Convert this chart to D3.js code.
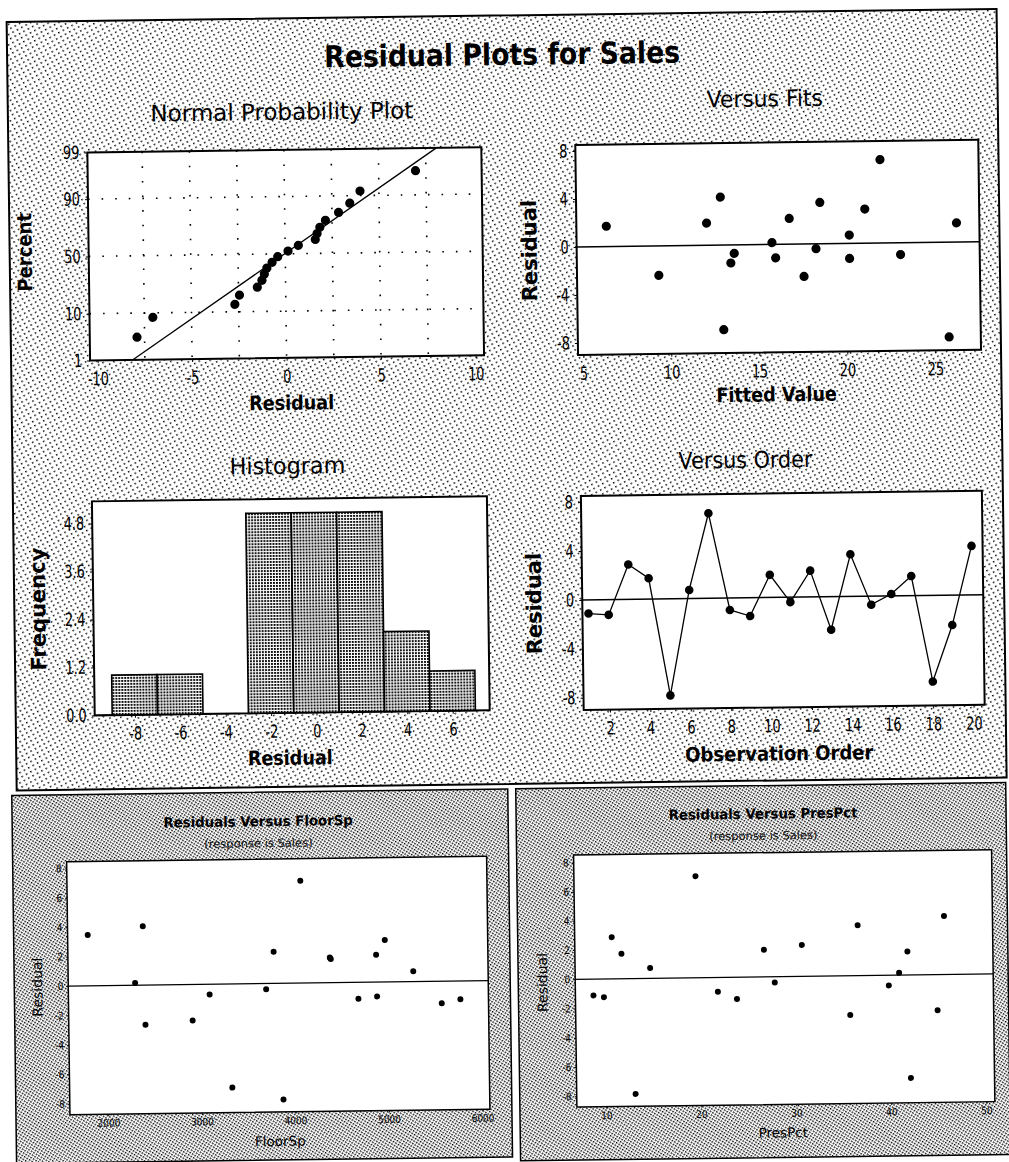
<!DOCTYPE html>
<html>
<head>
<meta charset="utf-8">
<script src="https://cdn.jsdelivr.net/npm/d3@7"></script>
<style>
body { margin: 0; background: #fff; }
text { font-family: "DejaVu Sans", Verdana, sans-serif; }
</style>
</head>
<body>
<script>
// ---- data ----
var order     = [1, 2, 3, 4, 5, 6, 7, 8, 9, 10, 11, 12, 13, 14, 15, 16, 17, 18, 19, 20];
var residuals = [-1.12, -1.25, 2.85, 1.70, -7.90, 0.70, 6.95, -0.98, -1.50, 1.85,
                 -0.40, 2.15, -2.70, 3.45, -0.70, 0.15, 1.60, -7.05, -2.45, 4.00];
var fitted    = [16.0, 20.2, 21.1, 6.4, 25.8, 20.2, 22.0, 23.1, 13.45, 12.1,
                 18.3, 16.8, 17.6, 18.55, 13.65, 15.8, 26.3, 13.0, 9.35, 12.9];
var floorSp   = [4690, 5780, 4980, 4390, 3875, 5280, 4085, 4890, 5580, 4885,
                 3705, 3790, 2410, 1805, 3100, 2305, 4400, 3330, 2915, 2395];
var presPct   = [8.8, 9.9, 10.8, 11.8, 13.1, 14.8, 19.7, 21.9, 23.9, 26.8,
                 27.9, 30.8, 35.8, 36.7, 39.9, 41.0, 41.9, 42.1, 45.0, 45.8];
var histCenters = [-8, -6, -4, -2, 0, 2, 4, 6];
var histCounts  = [1, 1, 0, 5, 5, 5, 2, 1];

var pctTicks   = [1, 10, 50, 90, 99];
var pctGrid    = [10, 50, 90];
var npTicks    = [-10, -5, 0, 5, 10];
var npGrid     = [-7.5, -5, -2.5, 0, 2.5, 5, 7.5];
var fitTicks   = [5, 10, 15, 20, 25];
var resTicks   = [-8, -4, 0, 4, 8];
var orderTicks = [2, 4, 6, 8, 10, 12, 14, 16, 18, 20];
var freqTicks  = [0, 1.2, 2.4, 3.6, 4.8];
var floorTicks = [2000, 3000, 4000, 5000, 6000];
var presTicks  = [10, 20, 30, 40, 50];
var resTicks2  = [-8, -6, -4, -2, 0, 2, 4, 6, 8];

// inverse normal cdf (Acklam) for the probability scale
function qnorm(p) {
  var a = [-3.969683028665376e+01, 2.209460984245205e+02, -2.759285104469687e+02, 1.383577518672690e+02, -3.066479806614716e+01, 2.506628277459239e+00];
  var b = [-5.447609879822406e+01, 1.615858368580409e+02, -1.556989798598866e+02, 6.680131188771972e+01, -1.328068155288572e+01];
  var c = [-7.784894002430293e-03, -3.223964580411365e-01, -2.400758277161838e+00, -2.549732539343734e+00, 4.374664141464968e+00, 2.938163982698783e+00];
  var d = [7.784695709041462e-03, 3.224671290700398e-01, 2.445134137142996e+00, 3.754408661907416e+00];
  var q, r;
  if (p < 0.02425) {
    q = Math.sqrt(-2 * Math.log(p));
    return (((((c[0]*q+c[1])*q+c[2])*q+c[3])*q+c[4])*q+c[5]) / ((((d[0]*q+d[1])*q+d[2])*q+d[3])*q+1);
  }
  if (p > 1 - 0.02425) {
    q = Math.sqrt(-2 * Math.log(1 - p));
    return -(((((c[0]*q+c[1])*q+c[2])*q+c[3])*q+c[4])*q+c[5]) / ((((d[0]*q+d[1])*q+d[2])*q+d[3])*q+1);
  }
  q = p - 0.5; r = q * q;
  return (((((a[0]*r+a[1])*r+a[2])*r+a[3])*r+a[4])*r+a[5])*q / (((((b[0]*r+b[1])*r+b[2])*r+b[3])*r+b[4])*r+1);
}

var svg = d3.select("body").append("svg").attr("width", 1009).attr("height", 1162);
var defs = svg.append("defs");

// halftone-ish fills
function dotPattern(id, w, h, dw, dh, angle) {
  var p = defs.append("pattern").attr("id", id).attr("patternUnits", "userSpaceOnUse")
    .attr("width", w).attr("height", h).attr("patternTransform", "rotate(" + angle + ")");
  p.append("rect").attr("width", w).attr("height", h).attr("fill", "#fff");
  p.append("rect").attr("width", dw).attr("height", dh).attr("fill", "#000");
}
dotPattern("pTop", 5, 4.5, 1.5, 1.5, -28);
dotPattern("pBot", 2.9, 2.8, 1.6, 1.4, 32);
dotPattern("pBar", 3, 3, 1.9, 1.9, 0);

// the scan is slightly tilted
var root = svg.append("g").attr("transform", "rotate(-0.75,504,581)");

function label(parent, x, y, s, size, opt) {
  opt = opt || {};
  return parent.append("text")
    .attr("transform", "translate(" + x + "," + y + ")" + (opt.rot ? " rotate(-90)" : "") + " scale(" + (opt.sx || 1) + ",1)")
    .attr("text-anchor", "middle")
    .style("font-size", size + "px")
    .style("font-weight", opt.bold ? "bold" : "normal")
    .attr("fill", opt.fill || "#000")
    .text(s);
}

function plotRect(a, sw) {
  root.append("rect").attr("x", a.x0).attr("y", a.y0)
    .attr("width", a.x1 - a.x0).attr("height", a.y1 - a.y0)
    .attr("fill", "#fff").attr("stroke", "#000").attr("stroke-width", sw);
}

function axes(a, x, y, xv, yv, cfg) {
  var gx = root.append("g").attr("transform", "translate(0," + a.y1 + ")")
    .call(d3.axisBottom(x).tickValues(xv).tickSize(cfg.ts).tickPadding(cfg.xpad).tickFormat(cfg.xf || String));
  var gy = root.append("g").attr("transform", "translate(" + a.x0 + ",0)")
    .call(d3.axisLeft(y).tickValues(yv).tickSize(cfg.ts).tickPadding(cfg.ypad).tickFormat(cfg.yf || String));
  [gx, gy].forEach(function(g) {
    g.select(".domain").remove();
    g.selectAll("line").attr("stroke", "#000");
    g.selectAll("text")
      .style("font-size", cfg.fs + "px")
      .style("font-family", '"DejaVu Sans", Verdana, sans-serif')
      .attr("fill", cfg.col)
      .attr("transform", "scale(" + cfg.sx + ",1)")
      .attr("x", function() { var v = this.getAttribute("x"); return v == null ? null : v / cfg.sx; });
  });
}

var topCfg = { ts: 3, xpad: 9, ypad: 5, fs: 18, sx: 0.72, col: "#000" };
var botCfg = { ts: 2, xpad: 3, ypad: 3, fs: 10.5, sx: 0.85, col: "#000" };

// ---- frames ----
root.append("rect").attr("x", 14).attr("y", 15.5).attr("width", 990).attr("height", 768.5)
  .attr("fill", "url(#pTop)").attr("stroke", "#000").attr("stroke-width", 2);
root.append("rect").attr("x", 9).attr("y", 789).attr("width", 496).attr("height", 368)
  .attr("fill", "url(#pBot)").attr("stroke", "#000").attr("stroke-width", 1.5);
root.append("rect").attr("x", 513).attr("y", 789).attr("width", 490).attr("height", 372)
  .attr("fill", "url(#pBot)").attr("stroke", "#000").attr("stroke-width", 1.5);

label(root, 509, 65, "Residual Plots for Sales", 30, { bold: true, sx: 0.89 });

// ---- Normal probability plot ----
var np = { x0: 93, x1: 487, y0: 147, y1: 355 };
var zMax = qnorm(0.99);
var xNp = d3.scaleLinear().domain([-10.4, 10.45]).range([np.x0, np.x1]);
var yNp = d3.scaleLinear().domain([-zMax, zMax]).range([np.y1, np.y0]);
plotRect(np, 2);
defs.append("clipPath").attr("id", "clipNp").append("rect")
  .attr("x", np.x0).attr("y", np.y0).attr("width", np.x1 - np.x0).attr("height", np.y1 - np.y0);
var gNp = root.append("g").attr("clip-path", "url(#clipNp)");
gNp.selectAll(".vg").data(npGrid).enter().append("line")
  .attr("x1", function(d) { return xNp(d); }).attr("x2", function(d) { return xNp(d); })
  .attr("y1", np.y0).attr("y2", np.y1)
  .attr("stroke", "#000").attr("stroke-width", 1.6).attr("stroke-dasharray", "1.6,13");
gNp.selectAll(".hg").data(pctGrid).enter().append("line")
  .attr("y1", function(d) { return yNp(qnorm(d / 100)); }).attr("y2", function(d) { return yNp(qnorm(d / 100)); })
  .attr("x1", np.x0).attr("x2", np.x1)
  .attr("stroke", "#000").attr("stroke-width", 1.6).attr("stroke-dasharray", "1.6,12");
var mu = d3.mean(residuals), sd = d3.deviation(residuals);
gNp.append("line")
  .attr("x1", xNp(mu - sd * zMax)).attr("y1", yNp(-zMax))
  .attr("x2", xNp(mu + sd * zMax)).attr("y2", yNp(zMax))
  .attr("stroke", "#000").attr("stroke-width", 1.3);
var sorted = residuals.slice().sort(d3.ascending);
gNp.selectAll(".pt").data(sorted).enter().append("circle")
  .attr("cx", function(d) { return xNp(d); })
  .attr("cy", function(d, i) { return yNp(qnorm((i + 1 - 0.3) / (sorted.length + 0.4))); })
  .attr("r", 4.6).attr("fill", "#000");
axes(np, xNp, yNp, npTicks, pctTicks.map(function(p) { return qnorm(p / 100); }),
  Object.assign({}, topCfg, { yf: function(d, i) { return String(pctTicks[i]); } }));
label(root, 288, 117, "Normal Probability Plot", 23, { sx: 1.0 });
label(root, 294, 407, "Residual", 20, { bold: true, sx: 0.88 });
label(root, 36, 246, "Percent", 20, { bold: true, rot: true, sx: 0.9 });

// ---- Versus fits ----
var vf = { x0: 581, x1: 984, y0: 146, y1: 356 };
var xVf = d3.scaleLinear().domain([4.7, 27.6]).range([vf.x0, vf.x1]);
var yVf = d3.scaleLinear().domain([-9.0, 8.5]).range([vf.y1, vf.y0]);
plotRect(vf, 2);
root.append("line").attr("x1", vf.x0).attr("x2", vf.x1).attr("y1", yVf(0)).attr("y2", yVf(0))
  .attr("stroke", "#000").attr("stroke-width", 1.5);
root.selectAll(".vfp").data(fitted).enter().append("circle")
  .attr("cx", function(d) { return xVf(d); })
  .attr("cy", function(d, i) { return yVf(residuals[i]); })
  .attr("r", 4.6).attr("fill", "#000");
axes(vf, xVf, yVf, fitTicks, resTicks, topCfg);
label(root, 771, 110, "Versus Fits", 23, { sx: 0.95 });
label(root, 779, 405, "Fitted Value", 20, { bold: true, sx: 0.88 });
label(root, 541, 251, "Residual", 21, { bold: true, rot: true, sx: 1 });

// ---- Histogram ----
var hs = { x0: 93, x1: 488, y0: 496, y1: 710 };
var xHs = d3.scaleLinear().domain([-9.77, 7.63]).range([hs.x0, hs.x1]);
var yHs = d3.scaleLinear().domain([0, 5.35]).range([hs.y1, hs.y0]);
plotRect(hs, 2);
root.selectAll(".bar").data(histCenters).enter().append("rect")
  .filter(function(d, i) { return histCounts[i] > 0; })
  .attr("x", function(d) { return xHs(d - 1); })
  .attr("width", function(d) { return xHs(d + 1) - xHs(d - 1); })
  .attr("y", function(d) { return yHs(histCounts[histCenters.indexOf(d)]); })
  .attr("height", function(d) { return yHs(0) - yHs(histCounts[histCenters.indexOf(d)]); })
  .attr("fill", "url(#pBar)").attr("stroke", "#000").attr("stroke-width", 1.6);
axes(hs, xHs, yHs, histCenters, freqTicks,
  Object.assign({}, topCfg, { yf: function(d) { return d.toFixed(1); } }));
label(root, 289, 471, "Histogram", 23, { sx: 0.97 });
label(root, 288, 762, "Residual", 20, { bold: true, sx: 0.88 });
label(root, 45, 603, "Frequency", 21, { bold: true, rot: true, sx: 1 });

// ---- Versus order ----
var vo = { x0: 582, x1: 983, y0: 497, y1: 711 };
var xVo = d3.scaleLinear().domain([0.7, 20.55]).range([vo.x0, vo.x1]);
var yVo = d3.scaleLinear().domain([-9.0, 8.5]).range([vo.y1, vo.y0]);
plotRect(vo, 2);
root.append("line").attr("x1", vo.x0).attr("x2", vo.x1).attr("y1", yVo(0)).attr("y2", yVo(0))
  .attr("stroke", "#000").attr("stroke-width", 1.5);
root.append("path")
  .attr("d", d3.line().x(function(d) { return xVo(d); }).y(function(d, i) { return yVo(residuals[i]); })(order))
  .attr("fill", "none").attr("stroke", "#000").attr("stroke-width", 1.3);
root.selectAll(".vop").data(order).enter().append("circle")
  .attr("cx", function(d) { return xVo(d); })
  .attr("cy", function(d, i) { return yVo(residuals[i]); })
  .attr("r", 4.3).attr("fill", "#000");
axes(vo, xVo, yVo, orderTicks, resTicks, topCfg);
label(root, 747, 471, "Versus Order", 23, { sx: 0.9 });
label(root, 777, 764, "Observation Order", 20, { bold: true, sx: 0.9 });
label(root, 541, 604, "Residual", 21, { bold: true, rot: true, sx: 1 });

// ---- Residuals versus FloorSp ----
var fs = { x0: 63, x1: 483, y0: 856, y1: 1109 };
var xFs = d3.scaleLinear().domain([1590, 6080]).range([fs.x0, fs.x1]);
var yFs = d3.scaleLinear().domain([-8.75, 8.45]).range([fs.y1, fs.y0]);
plotRect(fs, 1.5);
root.append("line").attr("x1", fs.x0).attr("x2", fs.x1).attr("y1", yFs(0)).attr("y2", yFs(0))
  .attr("stroke", "#000").attr("stroke-width", 1.3);
root.selectAll(".fsp").data(floorSp).enter().append("circle")
  .attr("cx", function(d) { return xFs(d); })
  .attr("cy", function(d, i) { return yFs(residuals[i]); })
  .attr("r", 3).attr("fill", "#000");
axes(fs, xFs, yFs, floorTicks, resTicks2, botCfg);
label(root, 255, 823, "Residuals Versus FloorSp", 14, { bold: true, sx: 0.95, fill: "#000" });
label(root, 255, 844, "(response is Sales)", 11.5, { fill: "#111" });
label(root, 273, 1143, "FloorSp", 13.5, { fill: "#000" });
label(root, 37, 981, "Residual", 14, { rot: true, fill: "#000" });

// ---- Residuals versus PresPct ----
var pp = { x0: 570, x1: 988, y0: 856, y1: 1108 };
var xPp = d3.scaleLinear().domain([6.9, 50.9]).range([pp.x0, pp.x1]);
var yPp = d3.scaleLinear().domain([-8.75, 8.5]).range([pp.y1, pp.y0]);
plotRect(pp, 1.5);
root.append("line").attr("x1", pp.x0).attr("x2", pp.x1).attr("y1", yPp(0)).attr("y2", yPp(0))
  .attr("stroke", "#000").attr("stroke-width", 1.3);
root.selectAll(".ppp").data(presPct).enter().append("circle")
  .attr("cx", function(d) { return xPp(d); })
  .attr("cy", function(d, i) { return yPp(residuals[i]); })
  .attr("r", 3).attr("fill", "#000");
axes(pp, xPp, yPp, presTicks, resTicks2, botCfg);
label(root, 760, 822, "Residuals Versus PresPct", 14, { bold: true, sx: 0.95, fill: "#000" });
label(root, 760, 843, "(response is Sales)", 11.5, { fill: "#111" });
label(root, 776, 1141, "PresPct", 13.5, { fill: "#000" });
label(root, 542, 983, "Residual", 14, { rot: true, fill: "#000" });
</script>
</body>
</html>
